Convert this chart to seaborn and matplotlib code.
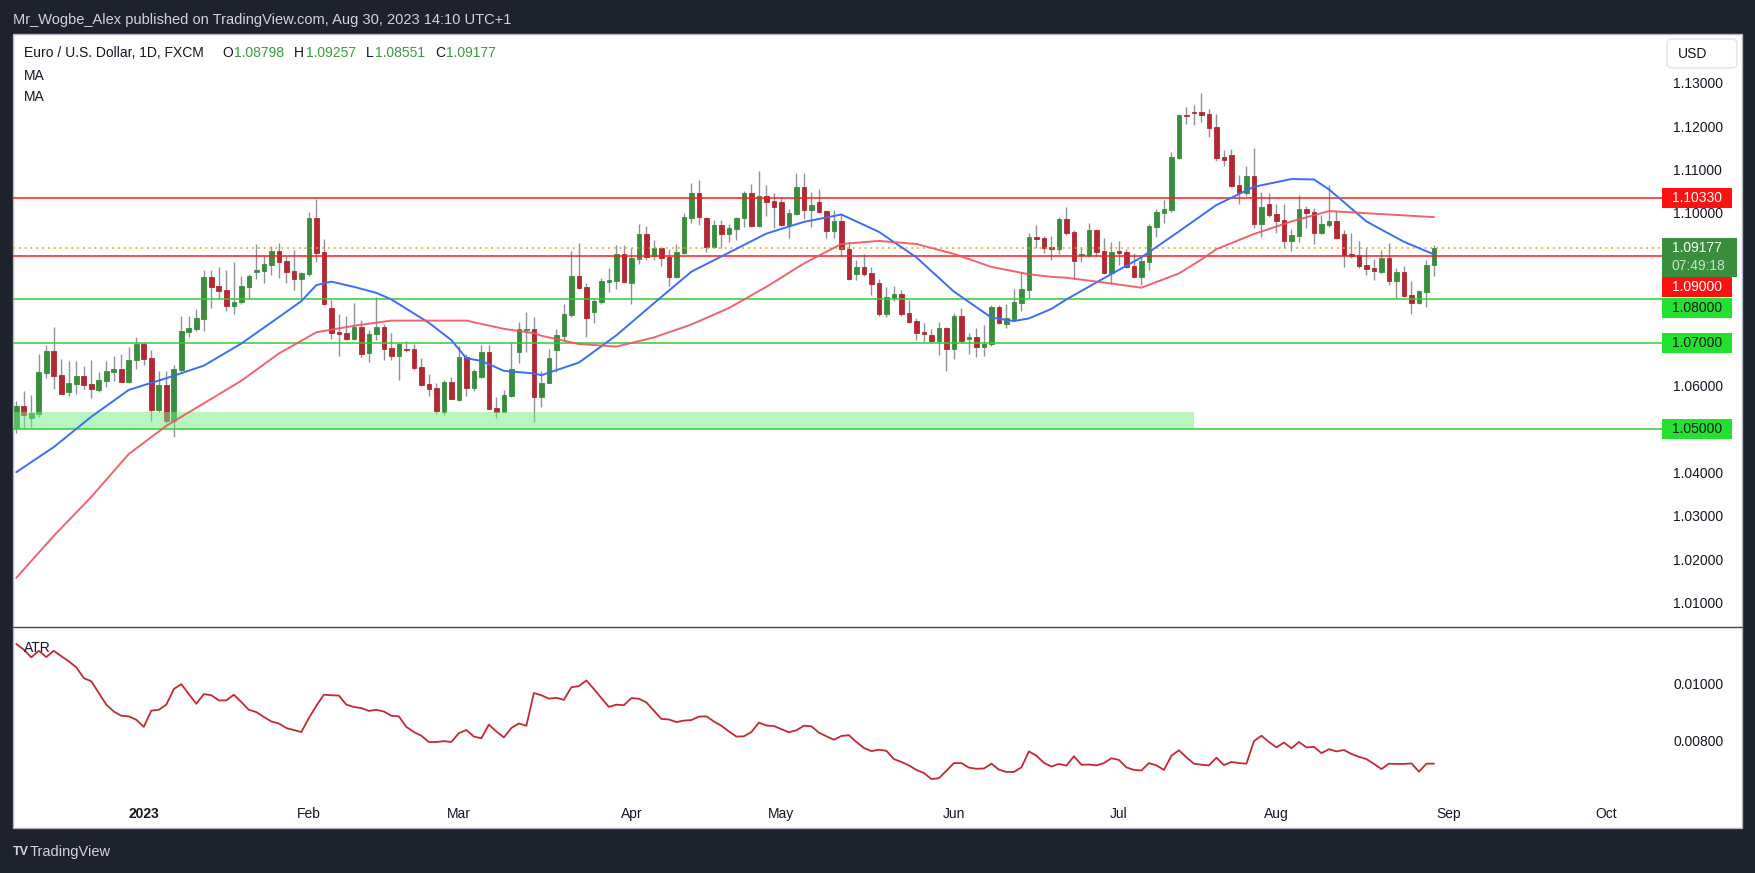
import numpy as np
import matplotlib
matplotlib.use("Agg")
import matplotlib.pyplot as plt
from matplotlib.patches import Rectangle, FancyBboxPatch
import seaborn as sns

# EUR/USD daily bars, Dec 8 2022 .. Aug 30 2023 (weekdays, index 0..189)
opens = [
    1.0504, 1.0554, 1.0527, 1.0536, 1.0631, 1.0681, 1.0625, 1.0587, 1.0605, 1.0623,
    1.0605, 1.0591, 1.0612, 1.0633, 1.0639, 1.0609, 1.0659, 1.0698, 1.0665, 1.0545,
    1.0602, 1.0520, 1.0637, 1.0725, 1.0732, 1.0755, 1.0852, 1.0831, 1.0822, 1.0785,
    1.0793, 1.0829, 1.0864, 1.0866, 1.0880, 1.0912, 1.0889, 1.0866, 1.0847, 1.0859,
    1.0988, 1.0910, 1.0780, 1.0725, 1.0722, 1.0709, 1.0736, 1.0676, 1.0719, 1.0736,
    1.0688, 1.0669, 1.0686, 1.0686, 1.0644, 1.0605, 1.0595, 1.0541, 1.0609, 1.0568,
    1.0667, 1.0596, 1.0621, 1.0679, 1.0549, 1.0541, 1.0577, 1.0679, 1.0729, 1.0731,
    1.0575, 1.0607, 1.0684, 1.0716, 1.0764, 1.0854, 1.0828, 1.0771, 1.0794, 1.0841,
    1.0843, 1.0905, 1.0838, 1.0894, 1.0951, 1.0900, 1.0918, 1.0898, 1.0852, 1.0908,
    1.0988, 1.1045, 1.0988, 1.0921, 1.0972, 1.0952, 1.0963, 1.0988, 1.1045, 1.0970,
    1.1039, 1.1027, 1.1025, 1.0972, 1.0998, 1.1059, 1.1007, 1.1025, 1.1004, 1.0958,
    1.0981, 1.0916, 1.0859, 1.0875, 1.0860, 1.0838, 1.0767, 1.0804, 1.0812, 1.0768,
    1.0750, 1.0724, 1.0717, 1.0704, 1.0734, 1.0686, 1.0761, 1.0709, 1.0713, 1.0690,
    1.0698, 1.0782, 1.0744, 1.0754, 1.0792, 1.0821, 1.0944, 1.0942, 1.0921, 1.0917,
    1.0986, 1.0956, 1.0903, 1.0903, 1.0960, 1.0912, 1.0861, 1.0912, 1.0910, 1.0877,
    1.0852, 1.0887, 1.0967, 1.1000, 1.1007, 1.1127, 1.1226, 1.1232, 1.1233, 1.1228,
    1.1198, 1.1129, 1.1134, 1.1064, 1.1046, 1.1085, 1.0974, 1.1020, 1.0997, 1.0983,
    1.0935, 1.0947, 1.1009, 1.1002, 1.0953, 1.0972, 1.0981, 1.0951, 1.0905, 1.0903,
    1.0880, 1.0873, 1.0863, 1.0896, 1.0843, 1.0863, 1.0810, 1.0792, 1.0817, 1.08798,
]
highs = [
    1.0565, 1.0588, 1.0579, 1.0674, 1.0695, 1.0736, 1.0662, 1.0658, 1.0658, 1.0646,
    1.0660, 1.0632, 1.0658, 1.0669, 1.0674, 1.0690, 1.0713, 1.0702, 1.0683, 1.0635,
    1.0635, 1.0649, 1.0762, 1.0762, 1.0777, 1.0868, 1.0868, 1.0875, 1.0868, 1.0886,
    1.0854, 1.0859, 1.0928, 1.0900, 1.0923, 1.0930, 1.0900, 1.0914, 1.0863, 1.1002,
    1.1032, 1.0940, 1.0799, 1.0766, 1.0762, 1.0792, 1.0752, 1.0729, 1.0806, 1.0743,
    1.0722, 1.0700, 1.0704, 1.0697, 1.0665, 1.0628, 1.0607, 1.0614, 1.0621, 1.0692,
    1.0674, 1.0639, 1.0695, 1.0695, 1.0575, 1.0591, 1.0702, 1.0748, 1.0771, 1.0759,
    1.0634, 1.0685, 1.0731, 1.0789, 1.0911, 1.0930, 1.0838, 1.0801, 1.0849, 1.0872,
    1.0925, 1.0925, 1.0918, 1.0974, 1.0969, 1.0937, 1.0921, 1.0916, 1.0928, 1.0999,
    1.1069, 1.1075, 1.0990, 1.0983, 1.0983, 1.0974, 1.0990, 1.1050, 1.1066, 1.1096,
    1.1064, 1.1045, 1.1036, 1.1009, 1.1092, 1.1092, 1.1048, 1.1055, 1.1006, 1.1006,
    1.0997, 1.0933, 1.0891, 1.0905, 1.0875, 1.0848, 1.0828, 1.0831, 1.0821, 1.0799,
    1.0757, 1.0745, 1.0731, 1.0747, 1.0736, 1.0768, 1.0780, 1.0722, 1.0734, 1.0741,
    1.0787, 1.0787, 1.0789, 1.0824, 1.0863, 1.0953, 1.0972, 1.0946, 1.0946, 1.0990,
    1.1014, 1.0960, 1.0921, 1.0977, 1.0963, 1.0942, 1.0933, 1.0935, 1.0917, 1.0907,
    1.0898, 1.0974, 1.1009, 1.1030, 1.1141, 1.1228, 1.1245, 1.1249, 1.1277, 1.1240,
    1.1229, 1.1145, 1.1148, 1.1087, 1.1108, 1.1150, 1.1048, 1.1046, 1.1020, 1.1020,
    1.0963, 1.1041, 1.1016, 1.1011, 1.0995, 1.1064, 1.1004, 1.0960, 1.0953, 1.0935,
    1.0919, 1.0893, 1.0914, 1.0930, 1.0873, 1.0877, 1.0843, 1.0822, 1.0891, 1.09257,
]
lows = [
    1.0491, 1.0504, 1.0506, 1.0529, 1.0619, 1.0594, 1.0582, 1.0578, 1.0581, 1.0592,
    1.0573, 1.0587, 1.0597, 1.0612, 1.0609, 1.0608, 1.0639, 1.0649, 1.0520, 1.0541,
    1.0515, 1.0483, 1.0632, 1.0714, 1.0727, 1.0727, 1.0781, 1.0801, 1.0774, 1.0766,
    1.0790, 1.0804, 1.0847, 1.0838, 1.0856, 1.0850, 1.0838, 1.0822, 1.0804, 1.0853,
    1.0887, 1.0788, 1.0709, 1.0670, 1.0706, 1.0706, 1.0668, 1.0655, 1.0707, 1.0660,
    1.0660, 1.0614, 1.0678, 1.0637, 1.0600, 1.0577, 1.0536, 1.0534, 1.0569, 1.0566,
    1.0578, 1.0589, 1.0618, 1.0546, 1.0525, 1.0539, 1.0575, 1.0652, 1.0679, 1.0517,
    1.0552, 1.0606, 1.0633, 1.0704, 1.0760, 1.0824, 1.0714, 1.0746, 1.0790, 1.0818,
    1.0824, 1.0838, 1.0790, 1.0882, 1.0891, 1.0891, 1.0878, 1.0831, 1.0850, 1.0905,
    1.0977, 1.0972, 1.0910, 1.0919, 1.0918, 1.0933, 1.0938, 1.0968, 1.0968, 1.0968,
    1.0993, 1.0965, 1.0969, 1.0942, 1.0995, 1.0986, 1.0968, 1.1000, 1.0942, 1.0942,
    1.0901, 1.0845, 1.0845, 1.0855, 1.0811, 1.0762, 1.0760, 1.0797, 1.0762, 1.0745,
    1.0707, 1.0702, 1.0702, 1.0672, 1.0635, 1.0663, 1.0700, 1.0675, 1.0667, 1.0670,
    1.0693, 1.0744, 1.0734, 1.0750, 1.0774, 1.0803, 1.0918, 1.0908, 1.0891, 1.0905,
    1.0949, 1.0847, 1.0887, 1.0899, 1.0900, 1.0858, 1.0836, 1.0880, 1.0872, 1.0849,
    1.0833, 1.0868, 1.0944, 1.0977, 1.1002, 1.1124, 1.1205, 1.1203, 1.1210, 1.1175,
    1.1120, 1.1108, 1.1060, 1.1020, 1.1039, 1.0965, 1.0944, 1.0990, 1.0953, 1.0919,
    1.0912, 1.0933, 1.0965, 1.0928, 1.0951, 1.0967, 1.0940, 1.0875, 1.0896, 1.0873,
    1.0856, 1.0845, 1.0860, 1.0833, 1.0803, 1.0806, 1.0766, 1.0789, 1.0783, 1.08551,
]
closes = [
    1.0554, 1.0532, 1.0537, 1.0632, 1.0681, 1.0624, 1.0582, 1.0607, 1.0623, 1.0603,
    1.0592, 1.0614, 1.0635, 1.0639, 1.0609, 1.0660, 1.0698, 1.0662, 1.0545, 1.0602,
    1.0520, 1.0639, 1.0727, 1.0734, 1.0757, 1.0852, 1.0829, 1.0819, 1.0785, 1.0794,
    1.0831, 1.0854, 1.0868, 1.0882, 1.0912, 1.0886, 1.0863, 1.0847, 1.0861, 1.0988,
    1.0907, 1.0790, 1.0723, 1.0721, 1.0709, 1.0736, 1.0675, 1.0720, 1.0736, 1.0686,
    1.0669, 1.0696, 1.0683, 1.0642, 1.0602, 1.0593, 1.0543, 1.0609, 1.0571, 1.0667,
    1.0596, 1.0635, 1.0679, 1.0548, 1.0541, 1.0579, 1.0639, 1.0732, 1.0732, 1.0575,
    1.0608, 1.0664, 1.0717, 1.0766, 1.0854, 1.0826, 1.0757, 1.0796, 1.0842, 1.0844,
    1.0905, 1.0841, 1.0895, 1.0951, 1.0898, 1.0918, 1.0896, 1.0852, 1.0909, 1.0990,
    1.1045, 1.0991, 1.0921, 1.0972, 1.0952, 1.0965, 1.0988, 1.1045, 1.0970, 1.1039,
    1.1025, 1.1014, 1.0972, 1.0999, 1.1059, 1.1007, 1.1018, 1.1002, 1.0958, 1.0981,
    1.0917, 1.0848, 1.0875, 1.0859, 1.0836, 1.0767, 1.0805, 1.0812, 1.0767, 1.0748,
    1.0723, 1.0721, 1.0704, 1.0734, 1.0686, 1.0761, 1.0704, 1.0713, 1.0690, 1.0697,
    1.0782, 1.0746, 1.0757, 1.0794, 1.0824, 1.0944, 1.0940, 1.0919, 1.0917, 1.0986,
    1.0953, 1.0889, 1.0905, 1.0960, 1.0910, 1.0861, 1.0910, 1.0907, 1.0875, 1.0852,
    1.0889, 1.0970, 1.1002, 1.1009, 1.1129, 1.1226, 1.1224, 1.1230, 1.1226, 1.1196,
    1.1127, 1.1122, 1.1062, 1.1046, 1.1085, 1.0974, 1.1014, 1.0995, 1.0981, 1.0935,
    1.0949, 1.1009, 1.1000, 1.0953, 1.0974, 1.0981, 1.0942, 1.0903, 1.0900, 1.0877,
    1.0870, 1.0866, 1.0896, 1.0843, 1.0863, 1.0808, 1.0792, 1.0819, 1.0880, 1.09177,
]

# moving averages (bar index -> value)
ma_fast_idx = [0, 5, 10, 15, 20, 25, 30, 35, 38, 40, 42, 45, 48, 50, 55, 58, 60, 62, 65, 69,
               70, 75, 80, 85, 90, 95, 100, 105, 110, 115, 120, 125, 130, 133, 135, 138,
               140, 145, 150, 155, 160, 165, 170, 173, 175, 180, 185, 189]
ma_fast = [1.0401, 1.0459, 1.0529, 1.0591, 1.0618, 1.0647, 1.0698, 1.0759, 1.0796, 1.0833,
           1.0841, 1.0829, 1.0815, 1.0800, 1.0746, 1.0706, 1.0664, 1.0658, 1.0635, 1.0629,
           1.0625, 1.0654, 1.0717, 1.0791, 1.0864, 1.0908, 1.0952, 1.0979, 1.0996, 1.0956,
           1.0897, 1.0818, 1.0758, 1.0750, 1.0756, 1.0778,
           1.0800, 1.0849, 1.0897, 1.0957, 1.1018, 1.1060, 1.1078, 1.1077, 1.1054, 1.0980,
           1.0933, 1.0904]
ma_slow_idx = [0, 5, 10, 15, 20, 25, 30, 35, 40, 45, 50, 55, 60, 65, 69,
               70, 75, 80, 85, 90, 95, 100, 105, 110, 115, 120, 125, 130, 135, 138,
               140, 145, 150, 155, 158, 160, 165, 170, 175, 180, 185, 189]
ma_slow = [1.0157, 1.0254, 1.0344, 1.0443, 1.0508, 1.0560, 1.0612, 1.0675, 1.0724, 1.0739,
           1.0751, 1.0751, 1.0751, 1.0732, 1.0722,
           1.0716, 1.0697, 1.0691, 1.0712, 1.0742, 1.0780, 1.0829, 1.0883, 1.0928, 1.0935,
           1.0928, 1.0905, 1.0875, 1.0858, 1.0852,
           1.0850, 1.0839, 1.0827, 1.0860, 1.0892, 1.0916, 1.0951, 1.0980, 1.1004, 1.0999,
           1.0994, 1.0990]

atr = [
    0.01137, 0.01117, 0.01090, 0.01113, 0.01091, 0.01113, 0.01094, 0.01076, 0.01055, 0.01017,
    0.01006, 0.00965, 0.00924, 0.00900, 0.00885, 0.00883, 0.00871, 0.00846, 0.00903, 0.00906,
    0.00924, 0.00979, 0.00996, 0.00961, 0.00927, 0.00961, 0.00957, 0.00939, 0.00939, 0.00959,
    0.00933, 0.00906, 0.00898, 0.00881, 0.00865, 0.00858, 0.00842, 0.00835, 0.00828, 0.00877,
    0.00920, 0.00959, 0.00957, 0.00956, 0.00924, 0.00916, 0.00912, 0.00902, 0.00906, 0.00900,
    0.00885, 0.00883, 0.00846, 0.00828, 0.00815, 0.00793, 0.00793, 0.00796, 0.00793, 0.00824,
    0.00835, 0.00812, 0.00806, 0.00854, 0.00830, 0.00809, 0.00842, 0.00858, 0.00850, 0.00965,
    0.00957, 0.00945, 0.00948, 0.00941, 0.00985, 0.00989, 0.01009, 0.00979, 0.00947, 0.00916,
    0.00924, 0.00922, 0.00947, 0.00945, 0.00932, 0.00903, 0.00874, 0.00872, 0.00863, 0.00868,
    0.00870, 0.00882, 0.00883, 0.00865, 0.00850, 0.00830, 0.00812, 0.00813, 0.00828, 0.00861,
    0.00851, 0.00849, 0.00838, 0.00827, 0.00834, 0.00850, 0.00848, 0.00826, 0.00813, 0.00801,
    0.00814, 0.00817, 0.00793, 0.00772, 0.00761, 0.00766, 0.00762, 0.00733, 0.00723, 0.00711,
    0.00695, 0.00684, 0.00663, 0.00666, 0.00692, 0.00719, 0.00719, 0.00703, 0.00699, 0.00700,
    0.00717, 0.00696, 0.00688, 0.00688, 0.00704, 0.00760, 0.00745, 0.00720, 0.00707, 0.00716,
    0.00710, 0.00743, 0.00713, 0.00714, 0.00711, 0.00719, 0.00736, 0.00730, 0.00704, 0.00695,
    0.00693, 0.00719, 0.00711, 0.00695, 0.00745, 0.00764, 0.00739, 0.00717, 0.00713, 0.00711,
    0.00738, 0.00712, 0.00723, 0.00719, 0.00717, 0.00796, 0.00815, 0.00793, 0.00774, 0.00791,
    0.00771, 0.00793, 0.00774, 0.00776, 0.00754, 0.00768, 0.00760, 0.00765, 0.00751, 0.00741,
    0.00733, 0.00716, 0.00698, 0.00717, 0.00716, 0.00716, 0.00718, 0.00689, 0.00717, 0.00717,
]

# drawn levels and the support zone
red_levels = [1.1033, 1.0900]
green_levels = [1.0800, 1.0700, 1.0500]
zone_low, zone_high, zone_end = 1.0500, 1.0541, 157

# scale labels that are not hidden behind the price tags
price_ticks = [1.01, 1.02, 1.03, 1.04, 1.06, 1.10, 1.11, 1.12, 1.13]
atr_ticks = [0.008, 0.010]
month_pos = [17, 39, 59, 82, 102, 125, 147, 168, 191, 212]
month_labels = ["2023", "Feb", "Mar", "Apr", "May", "Jun", "Jul", "Aug", "Sep", "Oct"]

W, H = 1755, 873
BG = "#1e222d"
UP, DOWN, WICK = "#388e3c", "#b22833", "#8f929b"
TXT = "#131722"


def fx(x):
    return x / W


def fy(y):
    return 1 - y / H


sns.set_style("white")
plt.rcParams["font.family"] = ["Liberation Sans", "DejaVu Sans"]

fig = plt.figure(figsize=(W / 100, H / 100), dpi=100, facecolor=BG)

# white chart panel
fig.add_artist(Rectangle((fx(13), fy(828)), (1742 - 13) / W, (828 - 34) / H,
                         transform=fig.transFigure, facecolor="white",
                         edgecolor="#b2b5be", linewidth=1, zorder=0))

ax = fig.add_axes([fx(13), fy(627), (1662 - 13) / W, (627 - 34) / H])
ax_atr = fig.add_axes([fx(13), fy(797), (1662 - 13) / W, (797 - 627) / H])
for a in (ax, ax_atr):
    a.set_facecolor("none")
    for s in a.spines.values():
        s.set_visible(False)

idx = np.arange(len(closes))
o, h, l, c = (np.array(v) for v in (opens, highs, lows, closes))
up = c >= o
cols = np.where(up, UP, DOWN)
body_lo = np.minimum(o, c)
body_h = np.maximum(np.abs(c - o), 0.00007)

ax.vlines(idx, l, h, color=WICK, linewidth=1, zorder=3)
ax.bar(idx, body_h, bottom=body_lo, width=0.62, color=cols, edgecolor=cols,
       linewidth=0.6, zorder=4)

# support zone sits over the candles
ax.add_patch(Rectangle((-0.5, zone_low), zone_end + 0.5, zone_high - zone_low,
                       facecolor="#73ed81", alpha=0.5, edgecolor="none", zorder=5))

for lv in red_levels:
    ax.axhline(lv, color="#ff1a1a", linewidth=1.1, zorder=5.5)
for lv in green_levels:
    ax.axhline(lv, color="#33cc33", linewidth=1.1, zorder=5.5)
ax.axhline(closes[-1], color="#ff9800", linewidth=1.2, linestyle=(0, (1, 2.5)), zorder=5.5)

sns.lineplot(x=ma_fast_idx, y=ma_fast, ax=ax, color="#3a6ef6", linewidth=1.4, zorder=6)
sns.lineplot(x=ma_slow_idx, y=ma_slow, ax=ax, color="#f0525e", linewidth=1.4, alpha=0.9, zorder=6)

ax.set_xlim(-0.44, 219.4)
ax.set_ylim(1.00434, 1.14129)
ax.yaxis.tick_right()
ax.set_yticks(price_ticks)
ax.set_yticklabels([f"{t:.5f}" for t in price_ticks])
ax.tick_params(axis="y", length=0, pad=8, labelsize=10, labelcolor=TXT)
ax.tick_params(axis="x", length=0, labelbottom=False)
ax.set_xlabel("")
ax.set_ylabel("")

# ATR pane
sns.lineplot(x=idx, y=atr, ax=ax_atr, color="#c62833", linewidth=1.3)
ax_atr.set_xlim(-0.44, 219.4)
ax_atr.set_ylim(0.0060, 0.011965)
ax_atr.yaxis.tick_right()
ax_atr.set_yticks(atr_ticks)
ax_atr.set_yticklabels([f"{t:.5f}" for t in atr_ticks])
ax_atr.tick_params(axis="y", length=0, pad=8, labelsize=10, labelcolor=TXT)
ax_atr.set_xticks(month_pos)
ax_atr.set_xticklabels(month_labels)
ax_atr.tick_params(axis="x", length=0, pad=7, labelsize=10, labelcolor=TXT)
ax_atr.get_xticklabels()[0].set_fontweight("bold")
ax_atr.set_xlabel("")
ax_atr.set_ylabel("")
fig.text(fx(24), fy(648), "ATR", fontsize=10, color=TXT, va="center", ha="left")

# pane divider
fig.add_artist(plt.Line2D([fx(13), fx(1742)], [fy(627), fy(627)], transform=fig.transFigure,
                          color="#434651", linewidth=1, zorder=3))


def price_px(p):
    return H - ax.transData.transform((0, p))[1]


def tag(price, text, face, tcol, dy=0.0, hgt=20):
    y = price_px(price) + dy
    fig.add_artist(Rectangle((fx(1662), fy(y + hgt / 2)), 70 / W, hgt / H,
                             transform=fig.transFigure, facecolor=face,
                             edgecolor="none", zorder=10))
    fig.text(fx(1672), fy(y), text, color=tcol, fontsize=10, va="center", ha="left", zorder=11)


tag(red_levels[0], f"{red_levels[0]:.5f}", "#ff1111", "white")
tag(red_levels[1], f"{red_levels[1]:.5f}", "#ff1111", "white", dy=31)
tag(green_levels[0], f"{green_levels[0]:.5f}", "#22e22e", TXT, dy=8.5)
tag(green_levels[1], f"{green_levels[1]:.5f}", "#22e22e", TXT)
tag(green_levels[2], f"{green_levels[2]:.5f}", "#22e22e", TXT)

# last price tag with countdown
yl = price_px(closes[-1])
fig.add_artist(Rectangle((fx(1662), fy(yl + 29)), 75 / W, 39 / H, transform=fig.transFigure,
                         facecolor="#388e3c", edgecolor="none", zorder=10))
fig.text(fx(1672), fy(yl), f"{closes[-1]:.5f}", color="white", fontsize=10,
         va="center", ha="left", zorder=11)
fig.text(fx(1672), fy(yl + 18), "07:49:18", color="#c8e6c9", fontsize=10,
         va="center", ha="left", zorder=11)

# USD button
fig.add_artist(FancyBboxPatch((fx(1667), fy(68)), 70 / W, 29 / H,
                              boxstyle="round,pad=0,rounding_size=0.004",
                              transform=fig.transFigure, facecolor="white",
                              edgecolor="#e0e3eb", linewidth=1, zorder=10))
fig.text(fx(1678), fy(54), "USD", color=TXT, fontsize=10, va="center", ha="left", zorder=11)

# legend / title lines
fig.text(fx(24), fy(53), "Euro / U.S. Dollar, 1D, FXCM", color=TXT, fontsize=10, va="center")
for letter, lx, val, vx in [("O", 222, opens[-1], 234), ("H", 294, highs[-1], 306),
                            ("L", 366, lows[-1], 375), ("C", 435, closes[-1], 446)]:
    fig.text(fx(lx), fy(53), letter, color=TXT, fontsize=10, va="center")
    fig.text(fx(vx), fy(53), f"{val:.5f}", color="#3b9a3f", fontsize=10, va="center")
fig.text(fx(24), fy(76), "MA", color=TXT, fontsize=10, va="center")
fig.text(fx(24), fy(97), "MA", color=TXT, fontsize=10, va="center")

# header and footer on the dark frame
fig.text(fx(13), fy(20), "Mr_Wogbe_Alex published on TradingView.com, Aug 30, 2023 14:10 UTC+1",
         color="#d1d4dc", fontsize=10.5, va="center", ha="left")
fig.text(fx(13), fy(852), "TV", color="#d1d4dc", fontsize=9, fontweight="bold", va="center")
fig.text(fx(30), fy(852), "TradingView", color="#d1d4dc", fontsize=10.5, va="center")

fig.savefig("out.png", dpi=100, facecolor=fig.get_facecolor())
plt.close(fig)
